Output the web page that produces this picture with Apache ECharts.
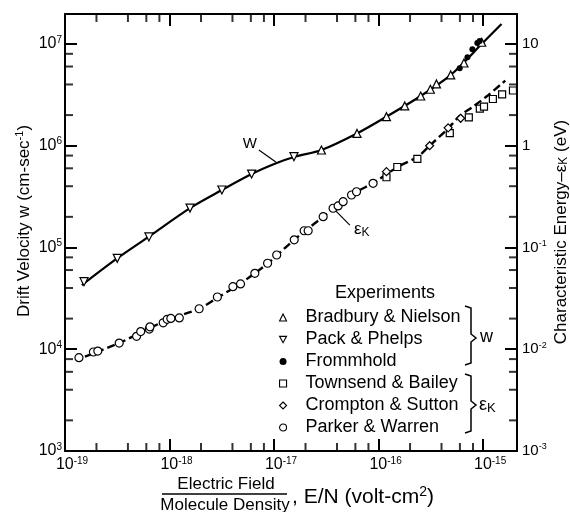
<!DOCTYPE html>
<html>
<head>
<meta charset="utf-8">
<script src="https://cdn.jsdelivr.net/npm/echarts@6/dist/echarts.min.js"></script>
<style>
html,body{margin:0;padding:0;background:#fff;}
#wrap{position:relative;width:570px;height:512px;}
#chart,#ticks{position:absolute;left:0;top:0;width:570px;height:512px;}
</style>
</head>
<body>
<div id="wrap">
  <div id="chart"></div>
  <div id="ticks"></div>
</div>
<script>
// E/N in volt-cm^2, drift velocity w in cm/sec, characteristic energy in eV
const bradburyEN = [2.84e-17, 6.22e-17, 1.19e-16, 1.78e-16, 2.53e-16, 3.13e-16, 3.58e-16, 4.9e-16, 6.56e-16, 9.7e-16];
const bradburyW  = [9.08e5, 1.32e6, 1.93e6, 2.46e6, 3.08e6, 3.59e6, 4.05e6, 4.96e6, 6.5e6, 1.04e7];

const packEN = [1.52e-19, 3.16e-19, 6.35e-19, 1.57e-18, 3.17e-18, 6.1e-18, 1.55e-17];
const packW  = [4.61e4, 7.83e4, 1.27e5, 2.44e5, 3.67e5, 5.27e5, 7.8e5];

const frommEN = [5.97e-16, 7.08e-16, 7.9e-16, 8.8e-16, 9.27e-16];
const frommW  = [5.77e6, 7.4e6, 8.87e6, 1.02e7, 1.07e7];

const townsendEN = [1.19e-16, 1.51e-16, 2.35e-16, 4.8e-16, 7.3e-16, 9.3e-16, 1.02e-15, 1.24e-15, 1.52e-15, 1.93e-15];
const townsendEk = [0.49, 0.618, 0.741, 1.33, 1.9, 2.32, 2.42, 2.88, 3.19, 3.49];

const cromptonEN = [1.19e-16, 3.08e-16, 4.63e-16, 6.1e-16];
const cromptonEk = [0.556, 1.0, 1.5, 1.86];

const parkerEN = [1.36e-19, 1.87e-19, 2.06e-19, 3.3e-19, 4.84e-19, 5.3e-19, 6.4e-19, 6.5e-19, 8.7e-19, 9.5e-19,
  1.03e-18, 1.24e-18, 1.92e-18, 2.87e-18, 4.04e-18, 4.78e-18, 6.55e-18, 8.67e-18, 1.06e-17, 1.56e-17,
  1.94e-17, 2.12e-17, 2.95e-17, 3.67e-17, 4.1e-17, 4.58e-17, 5.51e-17, 6.15e-17, 8.86e-17];
const parkerEk = [8.26e-3, 9.4e-3, 9.6e-3, 1.15e-2, 1.34e-2, 1.49e-2, 1.58e-2, 1.66e-2, 1.82e-2, 1.97e-2,
  2.01e-2, 2.03e-2, 2.5e-2, 3.26e-2, 4.12e-2, 4.38e-2, 5.57e-2, 7.0e-2, 8.44e-2, 0.119,
  0.146, 0.146, 0.201, 0.243, 0.256, 0.282, 0.328, 0.353, 0.427];

// fitted curves
const wCurveEN = [1.45e-19, 3.15e-19, 6.35e-19, 1.57e-18, 3.17e-18, 6.1e-18, 1.06e-17, 1.58e-17, 2.84e-17, 6.2e-17, 1.19e-16, 2.53e-16, 4.9e-16, 9.9e-16, 1.5e-15];
const wCurveW  = [4.27e4, 7.8e4, 1.28e5, 2.44e5, 3.67e5, 5.27e5, 6.76e5, 7.8e5, 9.08e5, 1.32e6, 1.93e6, 3.08e6, 4.96e6, 1.02e7, 1.57e7];

const ekCurveEN = [1.55e-19, 3.3e-19, 6.5e-19, 1.03e-18, 1.92e-18, 2.86e-18, 4.7e-18, 8.6e-18, 1.56e-17, 2.95e-17, 5.5e-17, 9.2e-17, 1.53e-16, 2.37e-16, 3.08e-16, 4.63e-16, 5.97e-16, 8.0e-16, 1.07e-15, 1.63e-15];
const ekCurveEk = [8.46e-3, 1.15e-2, 1.62e-2, 2.0e-2, 2.5e-2, 3.2e-2, 4.38e-2, 6.9e-2, 0.119, 0.2, 0.328, 0.44, 0.62, 0.78, 1.0, 1.48, 1.96, 2.42, 3.03, 4.36];

// axes
const xMin = 1e-19, xMax = 2.11e-15;
const wMin = 1e3, wMax = 1.97e7;
const ekMin = 1e-3, ekMax = 19.7;
const minorSteps = [2, 4, 6, 8];
const xDecades = [1e-19, 1e-18, 1e-17, 1e-16];
const wDecades = [1e3, 1e4, 1e5, 1e6];

const font = '"Liberation Sans", Arial, sans-serif';
const pairs = (xs, ys) => xs.map((x, i) => [x, ys[i]]);
const minorOf = decs => decs.flatMap(d => minorSteps.map(s => s * d));
const xMinor = minorOf(xDecades);
const wMinor = minorOf(wDecades);
const gridBox = {left: 65, right: 53, top: 14, bottom: 61};

function expLabel(v) {
  const e = Math.round(Math.log10(v));
  return '10{sup|' + e + '}';
}
const supRich = {sup: {fontSize: 10, fontFamily: font, color: '#000', padding: [0, 0, 8, 0]}};

const chart = echarts.init(document.getElementById('chart'));

const markerStyle = {color: '#fff', borderColor: '#000', borderWidth: 1.2, opacity: 1};
function scatter(name, xs, ys, symbol, size, extra) {
  return Object.assign({
    name: name, type: 'scatter', data: pairs(xs, ys), symbol: symbol, symbolSize: size,
    itemStyle: markerStyle, z: 5, silent: true
  }, extra || {});
}

const frameLine = () => ({show: true, lineStyle: {color: '#000', width: 2}});
const legendIcon = {color: '#fff', borderColor: '#000', borderWidth: 1.1};

const option = {
  animation: false,
  backgroundColor: '#fff',
  textStyle: {fontFamily: font, color: '#000'},
  grid: gridBox,
  xAxis: [
    {
      type: 'log', min: xMin, max: xMax, position: 'bottom',
      axisLine: frameLine(), axisTick: {show: false},
      axisLabel: {
        fontSize: 16, color: '#000', margin: 5, showMaxLabel: false, padding: [0, 0, 0, 14],
        formatter: expLabel, rich: supRich
      },
      splitLine: {show: false}
    },
    {
      type: 'log', min: xMin, max: xMax, position: 'top',
      axisLine: frameLine(), axisTick: {show: false},
      axisLabel: {show: false},
      splitLine: {show: false}
    }
  ],
  yAxis: [
    {
      type: 'log', min: wMin, max: wMax, position: 'left',
      axisLine: frameLine(), axisTick: {show: false},
      axisLabel: {
        fontSize: 16, color: '#000', margin: 3, showMaxLabel: false,
        formatter: expLabel, rich: supRich
      },
      splitLine: {show: false}
    },
    {
      type: 'log', min: ekMin, max: ekMax, position: 'right',
      axisLine: frameLine(), axisTick: {show: false},
      axisLabel: {
        fontSize: 15, color: '#000', margin: 5, showMaxLabel: false,
        formatter: v => {
          const e = Math.round(Math.log10(v));
          return e >= 0 ? String(Math.pow(10, e)) : '10{sup|' + e + '}';
        },
        rich: {sup: {fontSize: 9, fontFamily: font, color: '#000', padding: [0, 0, 8, 0]}}
      },
      splitLine: {show: false}
    }
  ],
  legend: {
    orient: 'vertical', left: 279, top: 308, padding: 0, itemWidth: 7, itemHeight: 7, itemGap: 3,
    selectedMode: false,
    data: [
      {name: 'Bradbury & Nielson', icon: 'triangle', itemStyle: legendIcon},
      {name: 'Pack & Phelps', icon: 'path://M0,0 L10,0 L5,9 Z', itemStyle: legendIcon},
      {name: 'Frommhold', icon: 'circle', itemStyle: {color: '#000', borderWidth: 0}},
      {name: 'Townsend & Bailey', icon: 'rect', itemStyle: legendIcon},
      {name: 'Crompton & Sutton', icon: 'diamond', itemStyle: legendIcon},
      {name: 'Parker & Warren', icon: 'circle', itemStyle: legendIcon}
    ],
    textStyle: {fontFamily: font, fontSize: 18, color: '#000', padding: [0, 0, 0, 14], lineHeight: 19}
  },
  series: [
    {
      name: 'w', type: 'line', data: pairs(wCurveEN, wCurveW), showSymbol: false, smooth: 0.3,
      lineStyle: {color: '#000', width: 2.2}, z: 3, silent: true,
      markLine: {
        silent: true, symbol: 'none', label: {show: false},
        lineStyle: {color: '#000', width: 1.2, type: 'solid'},
        data: [[{coord: [7.16e-18, 9.08e5]}, {coord: [1.04e-17, 6.92e5]}]]
      },
      markPoint: {
        silent: true, symbol: 'rect', symbolSize: 1, itemStyle: {color: 'transparent'},
        label: {show: true, position: 'inside', color: '#000', fontSize: 15, fontFamily: font, formatter: 'W'},
        data: [{coord: [5.87e-18, 1.04e6]}]
      }
    },
    {
      name: 'epsK', type: 'line', yAxisIndex: 1, data: pairs(ekCurveEN, ekCurveEk), showSymbol: false, smooth: 0.3,
      lineStyle: {color: '#000', width: 2.4, type: [8, 4]}, z: 3, silent: true,
      markLine: {
        silent: true, symbol: 'none', label: {show: false},
        lineStyle: {color: '#000', width: 1.2, type: 'solid'},
        data: [[{coord: [3.55e-17, 0.252]}, {coord: [5.31e-17, 0.166]}]]
      },
      markPoint: {
        silent: true, symbol: 'rect', symbolSize: 1, itemStyle: {color: 'transparent'},
        label: {
          show: true, position: 'inside', color: '#000', fontSize: 17, fontFamily: font,
          formatter: '{e|ε}{k|K}',
          rich: {e: {fontSize: 17, fontFamily: font}, k: {fontSize: 12, fontFamily: font, padding: [8, 0, 0, 0]}}
        },
        data: [{coord: [6.9e-17, 0.152]}]
      }
    },
    scatter('Bradbury & Nielson', bradburyEN, bradburyW, 'triangle', 8),
    scatter('Pack & Phelps', packEN, packW, 'triangle', 8, {symbolRotate: 180}),
    scatter('Frommhold', frommEN, frommW, 'circle', 6, {itemStyle: {color: '#000', opacity: 1}}),
    scatter('Townsend & Bailey', townsendEN, townsendEk, 'rect', 7, {yAxisIndex: 1}),
    scatter('Crompton & Sutton', cromptonEN, cromptonEk, 'diamond', 8, {yAxisIndex: 1}),
    scatter('Parker & Warren', parkerEN, parkerEk, 'circle', 8, {yAxisIndex: 1})
  ],
  graphic: [
    {type: 'text', x: 24, y: 221, rotation: Math.PI / 2,
      style: {text: 'Drift Velocity w (cm-sec{sup|-1})', font: '17px ' + font, fill: '#000', align: 'center', verticalAlign: 'middle',
        rich: {sup: {fontSize: 11, fontFamily: font, padding: [0, 0, 8, 0]}}}},
    {type: 'text', x: 561, y: 232, rotation: Math.PI / 2,
      style: {text: 'Characteristic Energy–ε{sub|K} (eV)', font: '17px ' + font, fill: '#000', align: 'center', verticalAlign: 'middle',
        rich: {sub: {fontSize: 12, fontFamily: font, padding: [6, 0, 0, 0]}}}},
    {type: 'text', x: 226, y: 484,
      style: {text: 'Electric Field', font: '17px ' + font, fill: '#000', align: 'center', verticalAlign: 'middle'}},
    {type: 'line', shape: {x1: 162, y1: 494, x2: 287, y2: 494}, style: {stroke: '#000', lineWidth: 1.5}},
    {type: 'text', x: 225, y: 505,
      style: {text: 'Molecule Density', font: '17px ' + font, fill: '#000', align: 'center', verticalAlign: 'middle'}},
    {type: 'text', x: 292, y: 497,
      style: {text: ', E/N (volt-cm{sup|2})', font: '21px ' + font, fill: '#000', align: 'left', verticalAlign: 'middle',
        rich: {sup: {fontSize: 14, fontFamily: font, padding: [0, 0, 9, 0]}}}},
    {type: 'text', x: 385, y: 293,
      style: {text: 'Experiments', font: '18px ' + font, fill: '#000', align: 'center', verticalAlign: 'middle'}},
    {type: 'polyline', shape: {points: [[465, 306], [471, 308], [471, 334], [476, 338], [471, 342], [471, 363], [465, 365]]},
      style: {stroke: '#000', lineWidth: 1.5, fill: null}},
    {type: 'polyline', shape: {points: [[465, 374], [471, 376], [471, 401], [476, 405], [471, 409], [471, 431], [465, 433]]},
      style: {stroke: '#000', lineWidth: 1.5, fill: null}},
    {type: 'text', x: 480, y: 337,
      style: {text: 'w', font: '18px ' + font, fill: '#000', align: 'left', verticalAlign: 'middle'}},
    {type: 'text', x: 479, y: 405,
      style: {text: 'ε{sub|K}', font: '18px ' + font, fill: '#000', align: 'left', verticalAlign: 'middle',
        rich: {sub: {fontSize: 13, fontFamily: font, padding: [7, 0, 0, 0]}}}}
  ]
};

chart.setOption(option);

// second, transparent chart on top that carries only the frame ticks (same grid and scales)
const tickChart = echarts.init(document.getElementById('ticks'));
const tickAxis = (pos, min, max) => ({
  type: 'log', min: min, max: max, position: pos,
  axisLine: {show: false}, axisLabel: {show: false}, splitLine: {show: false},
  axisTick: {show: true, inside: true, length: 12, lineStyle: {color: '#000', width: 2}}
});
function minorTicks(data, size, offset, xi, yi) {
  return {
    type: 'scatter', data: data, symbol: 'rect', symbolSize: size, symbolOffset: offset,
    xAxisIndex: xi, yAxisIndex: yi, itemStyle: {color: '#000'}, clip: false
  };
}
tickChart.setOption({
  animation: false,
  grid: gridBox,
  xAxis: [tickAxis('bottom', xMin, xMax), tickAxis('top', xMin, xMax)],
  yAxis: [tickAxis('left', wMin, wMax), tickAxis('right', wMin, wMax)],
  series: [
    minorTicks(xMinor.map(v => [v, wMin]), [2, 8], [0, -4], 0, 0),
    minorTicks(xMinor.map(v => [v, wMax]), [2, 8], [0, 4], 1, 0),
    minorTicks(wMinor.map(v => [xMin, v]), [8, 2], [4, 0], 0, 0),
    minorTicks(wMinor.map(v => [xMax, v]), [8, 2], [-4, 0], 0, 1)
  ]
});
</script>
</body>
</html>
